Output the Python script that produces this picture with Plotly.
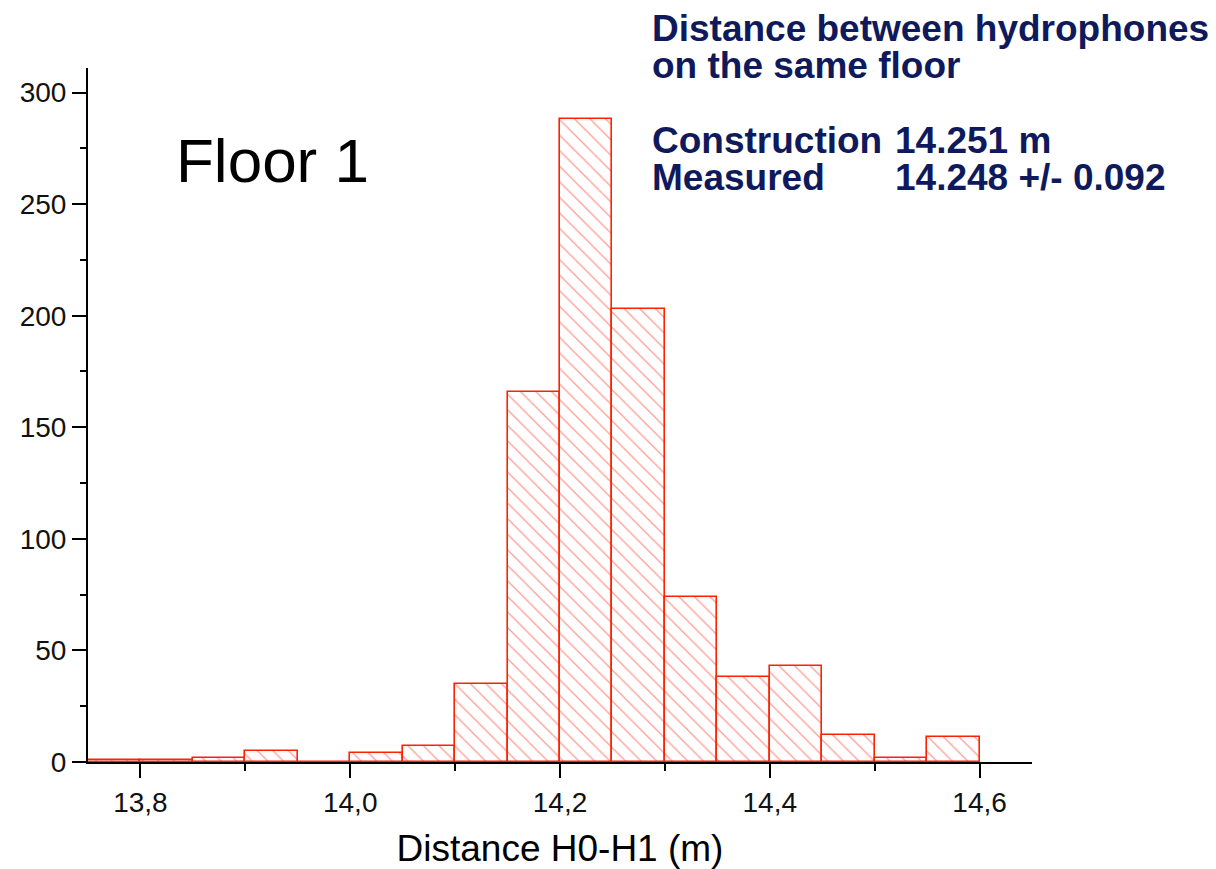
import plotly.graph_objects as go

# Histogram data: left edges of 0.05-wide bins and counts
bin_left = [13.75, 13.80, 13.85, 13.90, 13.95, 14.00, 14.05, 14.10, 14.15,
            14.20, 14.25, 14.30, 14.35, 14.40, 14.45, 14.50, 14.55]
counts = [1, 1, 2, 5, 0, 4, 7, 35, 166, 288, 203, 74, 38, 43, 12, 2, 11]
bin_width = 0.05

x_tick_vals = [13.8, 14.0, 14.2, 14.4, 14.6]
x_tick_text = ["13,8", "14,0", "14,2", "14,4", "14,6"]
x_minor_vals = [13.9, 14.1, 14.3, 14.5]
y_tick_vals = [0, 50, 100, 150, 200, 250, 300]
y_minor_vals = [25, 75, 125, 175, 225, 275]

FONT = "Liberation Sans, Arial, Helvetica, sans-serif"
NAVY = "#0f1a5c"

centers = [b + bin_width / 2 for b in bin_left]

fig = go.Figure()
fig.add_trace(go.Bar(
    x=centers, y=counts, width=[bin_width] * len(counts),
    marker=dict(
        color="white",
        line=dict(color="#ff2200", width=1.6),
        pattern=dict(shape="\\", fgcolor="#ff3a25", bgcolor="white",
                     size=11, solidity=0.12),
    ),
    showlegend=False,
))

fig.update_layout(
    width=1216, height=869,
    margin=dict(l=88, r=184, t=68, b=107, autoexpand=False),
    paper_bgcolor="white", plot_bgcolor="white",
    font=dict(family=FONT, color="#111111"),
    bargap=0,
    xaxis=dict(
        range=[13.75, 14.65], showgrid=False, zeroline=False,
        showline=True, linecolor="black", linewidth=2,
        tickmode="array", tickvals=x_tick_vals, ticktext=x_tick_text,
        ticks="outside", ticklen=14, tickwidth=2, tickcolor="black",
        tickfont=dict(size=28, family=FONT, color="#111111"),
        minor=dict(tickmode="array", tickvals=x_minor_vals, ticks="outside",
                   ticklen=7, tickwidth=2, tickcolor="black"),
        title=dict(text="Distance H0-H1 (m)",
                   font=dict(size=37, family=FONT, color="black"),
                   standoff=19),
        automargin=False,
    ),
    yaxis=dict(
        range=[0, 311], showgrid=False, zeroline=False,
        showline=True, linecolor="black", linewidth=2,
        tickmode="array", tickvals=y_tick_vals,
        ticks="outside", ticklen=14, tickwidth=2, tickcolor="black",
        tickfont=dict(size=28, family=FONT, color="#111111"),
        minor=dict(tickmode="array", tickvals=y_minor_vals, ticks="outside",
                   ticklen=6, tickwidth=2, tickcolor="black"),
        automargin=False,
    ),
)

def px_x(x):
    return (x - 88) / 944

def px_y(y):
    return (762 - y) / 694

fig.add_annotation(text="Floor 1", xref="paper", yref="paper",
                   x=px_x(174), y=px_y(160), xanchor="left", yanchor="middle",
                   showarrow=False, font=dict(size=62, family=FONT, color="black"))

lines_left = [
    ("Distance between hydrophones", 28),
    ("on the same floor", 65),
    ("Construction", 140),
    ("Measured", 177),
]
for txt, yy in lines_left:
    fig.add_annotation(text="<b>%s</b>" % txt, xref="paper", yref="paper",
                       x=px_x(650), y=px_y(yy), xanchor="left", yanchor="middle",
                       showarrow=False, font=dict(size=37, family=FONT, color=NAVY))

lines_right = [("14.251 m", 140), ("14.248 +/- 0.092", 177)]
for txt, yy in lines_right:
    fig.add_annotation(text="<b>%s</b>" % txt, xref="paper", yref="paper",
                       x=px_x(893), y=px_y(yy), xanchor="left", yanchor="middle",
                       showarrow=False, font=dict(size=37, family=FONT, color=NAVY))

fig.write_html("out.html")
